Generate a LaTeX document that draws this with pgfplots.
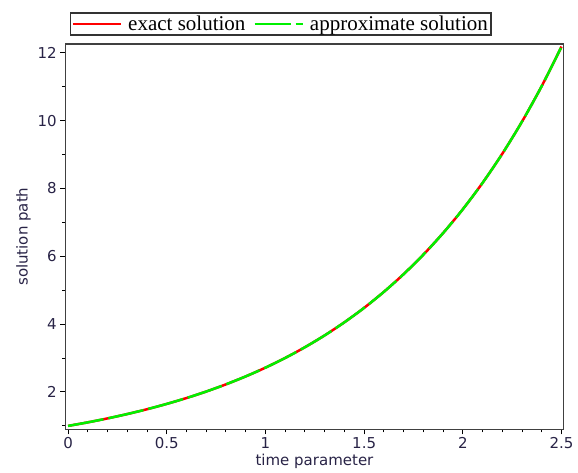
\documentclass[border=0pt]{standalone}
\usepackage{fontspec}
\setmainfont{Liberation Serif}
\newfontfamily\dejavu{DejaVu Sans}
\usepackage{pgfplots}
\usepackage{pgfplotstable}
\pgfplotsset{compat=1.18}
\definecolor{exactred}{RGB}{255,0,0}
\definecolor{approxgreen}{RGB}{0,240,0}
\definecolor{ticktext}{RGB}{40,35,70}
\pgfplotstableread{
t y
0.0 1.00000
0.1 1.10517
0.2 1.22140
0.3 1.34986
0.4 1.49182
0.5 1.64872
0.6 1.82212
0.7 2.01375
0.8 2.22554
0.9 2.45960
1.0 2.71828
1.1 3.00417
1.2 3.32012
1.3 3.66930
1.4 4.05520
1.5 4.48169
1.6 4.95303
1.7 5.47395
1.8 6.04965
1.9 6.68589
2.0 7.38906
2.1 8.16617
2.2 9.02501
2.3 9.97418
2.4 11.02318
2.5 12.18249
}\exacttable
\pgfplotstableread{
t y
0.0 1.000
0.1 1.105
0.2 1.221
0.3 1.350
0.4 1.492
0.5 1.649
0.6 1.822
0.7 2.014
0.8 2.226
0.9 2.460
1.0 2.718
1.1 3.004
1.2 3.320
1.3 3.669
1.4 4.055
1.5 4.482
1.6 4.953
1.7 5.474
1.8 6.050
1.9 6.686
2.0 7.389
2.1 8.166
2.2 9.025
2.3 9.974
2.4 11.023
2.5 12.182
}\approxtable
\begin{document}
\begin{tikzpicture}
\begin{axis}[
  name=ax,
  scale only axis,
  width=498.4pt, height=385.3pt,
  xmin=-0.014, xmax=2.511, ymin=0.90, ymax=12.26,
  xtick={0,0.5,1,1.5,2,2.5},
  xticklabels={0,0.5,1,1.5,2,2.5},
  ytick={2,4,6,8,10,12},
  minor xtick={0.1,0.2,0.3,0.4,0.6,0.7,0.8,0.9,1.1,1.2,1.3,1.4,1.6,1.7,1.8,1.9,2.1,2.2,2.3,2.4},
  minor ytick={1,3,5,7,9,11},
  tick pos=left,
  tick align=outside,
  major tick length=5pt, minor tick length=3pt,
  every tick/.style={black, line width=1pt},
  axis line style={line width=1.5pt, black!75},
  /pgf/number format/assume math mode=true,
  tick label style={font=\dejavu\fontsize{15}{17}\selectfont, text=ticktext},
  label style={font=\dejavu\fontsize{15}{17}\selectfont, text=ticktext},
  xlabel={time parameter},
  xlabel style={yshift=2pt},
  ylabel={solution path},
  legend style={at={(0.0094,1.0208)}, anchor=south west, legend columns=2,
    draw=black!80, line width=1.5pt, inner sep=1pt,
    font=\fontsize{21}{22}\selectfont,
    /tikz/every odd column/.append style={column sep=4pt},
    /tikz/every even column/.append style={column sep=6pt}},
  legend image code/.code={\draw[#1] (0pt,0pt) -- (48pt,0pt);},
]
\addplot[exactred, line width=2.5pt, smooth] table[x=t, y=y] {\exacttable};
\addlegendentry{exact solution}
\addplot[approxgreen, line width=2.5pt, smooth, dash pattern=on 36pt off 5pt] table[x=t, y=y] {\approxtable};
\addlegendentry{approximate solution}
\end{axis}
\pgfresetboundingbox
\useasboundingbox ([shift={(-65.3pt,-42.7pt)}]ax.south west) rectangle ([shift={(14.3pt,44pt)}]ax.north east);
\end{tikzpicture}
\end{document}
